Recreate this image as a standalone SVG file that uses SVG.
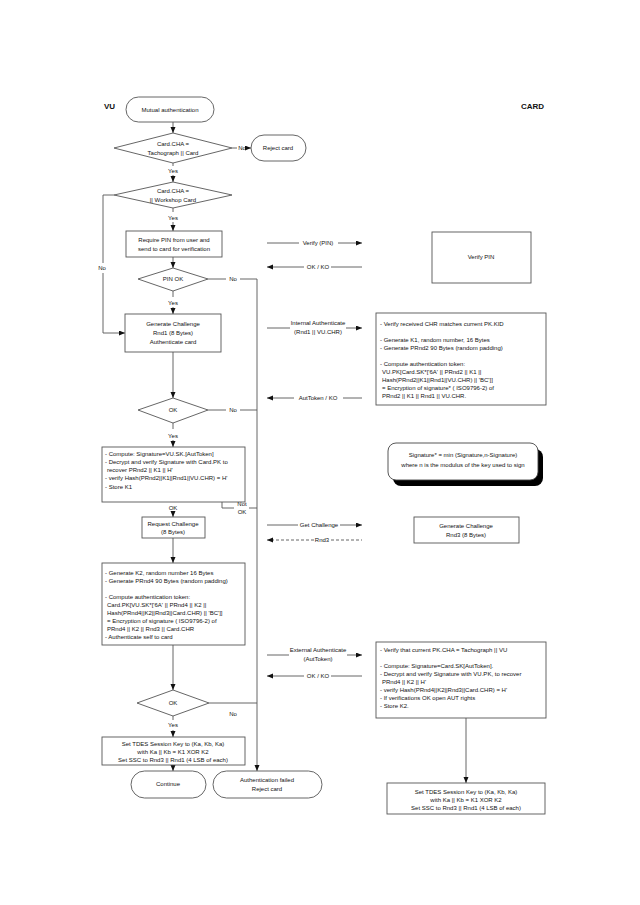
<svg xmlns="http://www.w3.org/2000/svg" width="640" height="905" viewBox="0 0 640 905">
<defs>
<marker id="ah" markerUnits="userSpaceOnUse" markerWidth="7" markerHeight="6" refX="6" refY="2.5" orient="auto">
<path d="M0,0 L6,2.5 L0,5 z" fill="#111"/>
</marker>
<style>
.n{fill:#fff;stroke:#555;stroke-width:0.9}
.t{font-family:"Liberation Sans",Arial,sans-serif;font-size:6px;fill:#111}
.m{text-anchor:middle}
.b{font-weight:bold;font-size:8px}
.c{fill:none;stroke:#555;stroke-width:0.9}
.a{marker-end:url(#ah)}
.d{stroke-dasharray:3 2}
</style>
</defs>
<rect width="640" height="905" fill="#fff"/>

<text class="t b" x="104" y="109">VU</text>
<text class="t b" x="521" y="109">CARD</text>

<g id="connectors">
<path class="c a" d="M173,122 V133"/>
<path class="c" d="M232,148 H237"/><path class="c a" d="M247,148 H251"/>
<path class="c" d="M173,163 V166"/><path class="c a" d="M173,175 V182"/>
<path class="c" d="M173,208 V212"/><path class="c a" d="M173,222 V231"/>
<path class="c" d="M114,195 H103 V263"/><path class="c a" d="M103,273 V333 H125"/>
<path class="c a" d="M173,257 V268"/>
<path class="c" d="M208,279 H226"/><path class="c a" d="M240,279 H257 V771"/>
<path class="c" d="M173,291 V297"/><path class="c a" d="M173,307 V314"/>
<path class="c a" d="M173,352 V398"/>
<path class="c" d="M208,410 H226 M240,410 H257"/>
<path class="c" d="M173,423 V429"/><path class="c a" d="M173,440 V447"/>
<path class="c" d="M222,502 V508 H234 M249,508 H257"/>
<path class="c a" d="M173,512 V517"/>
<path class="c a" d="M173,538 V563"/>
<path class="c a" d="M173,645 V690"/>
<path class="c" d="M209,703 H257"/>
<path class="c" d="M173,716 V720"/><path class="c a" d="M173,730 V737"/>
<path class="c a" d="M173,765 V771"/>
<!-- messages -->
<path class="c" d="M267,243 H299"/><path class="c a" d="M338,243 H362"/>
<path class="c a" d="M304,267 H267"/><path class="c" d="M331,267 H362"/>
<path class="c" d="M267,328 H290"/><path class="c a" d="M346,328 H362"/>
<path class="c a" d="M294,398 H267"/><path class="c" d="M343,398 H362"/>
<path class="c" d="M267,525 H298"/><path class="c a" d="M340,525 H362"/>
<path class="c d a" d="M314,540 H267"/><path class="c d" d="M331,540 H362"/>
<path class="c" d="M267,655 H289"/><path class="c a" d="M347,655 H362"/>
<path class="c a" d="M304,676 H267"/><path class="c" d="M331,676 H362"/>
<path class="c a" d="M466,718 V783"/>
<text class="t m" x="242" y="150">No</text>
<text class="t m" x="173" y="173">Yes</text>
<text class="t m" x="173" y="220">Yes</text>
<text class="t m" x="102" y="270">No</text>
<text class="t m" x="233" y="281">No</text>
<text class="t m" x="173" y="305">Yes</text>
<text class="t m" x="233" y="412">No</text>
<text class="t m" x="173" y="438">Yes</text>
<text class="t m" x="242" y="506">Not</text>
<text class="t m" x="242" y="514">OK</text>
<text class="t m" x="173" y="510">OK</text>
<text class="t m" x="233" y="716">No</text>
<text class="t m" x="173" y="727">Yes</text>
<text class="t m" x="318" y="245">Verify (PIN)</text>
<text class="t m" x="318" y="269">OK / KO</text>
<text class="t m" x="318" y="325">Internal Authenticate</text>
<text class="t m" x="318" y="334">(Rnd1 || VU.CHR)</text>
<text class="t m" x="318" y="400">AutToken / KO</text>
<text class="t m" x="319" y="527">Get Challenge</text>
<text class="t m" x="322" y="542">Rnd3</text>
<text class="t m" x="318" y="652">External Authenticate</text>
<text class="t m" x="318" y="661">(AutToken)</text>
<text class="t m" x="318" y="678">OK / KO</text>
</g>

<g id="start"><rect class="n" x="126" y="97" width="88" height="25" rx="12.5"/><text class="t m" x="170" y="112">Mutual authentication</text></g>
<g id="check-cha"><polygon class="n" points="173,133 232,148 173,163 114,148"/><text class="t m" x="173" y="146">Card.CHA =</text><text class="t m" x="173" y="155">Tachograph || Card</text></g>
<g id="reject1"><rect class="n" x="251" y="135" width="55" height="26" rx="13"/><text class="t m" x="278" y="150">Reject card</text></g>
<g id="check-workshop"><polygon class="n" points="173,182 232,195 173,208 114,195"/><text class="t m" x="173" y="193">Card.CHA =</text><text class="t m" x="173" y="202">|| Workshop Card</text></g>
<g id="require-pin"><rect class="n" x="126" y="231" width="96" height="26"/><text class="t m" x="174" y="242">Require PIN from user and</text><text class="t m" x="174" y="251">send to card for verification</text></g>
<g id="pin-ok"><polygon class="n" points="173,268 208,279 173,291 138,279"/><text class="t m" x="173" y="281">PIN OK</text></g>
<g id="gen-challenge"><rect class="n" x="125" y="314" width="96" height="38"/><text class="t m" x="173" y="326">Generate Challenge</text><text class="t m" x="173" y="335">Rnd1 (8 Bytes)</text><text class="t m" x="173" y="344">Authenticate card</text></g>
<g id="ok1"><polygon class="n" points="173,398 208,410 173,423 138,410"/><text class="t m" x="173" y="412">OK</text></g>
<g id="compute1"><rect class="n" x="102" y="447" width="143" height="55"/>
<text class="t" x="105" y="456">- Compute: Signature=VU.SK.[AutToken]</text>
<text class="t" x="105" y="464">- Decrypt and verify Signature with Card.PK to</text>
<text class="t" x="107" y="472">recover PRnd2 || K1 || H'</text>
<text class="t" x="105" y="480">- verify Hash(PRnd2||K1||Rnd1||VU.CHR) = H'</text>
<text class="t" x="105" y="489">- Store K1</text></g>
<g id="request-challenge"><rect class="n" x="142" y="517" width="63" height="21"/><text class="t m" x="173" y="526">Request Challenge</text><text class="t m" x="173" y="534">(8 Bytes)</text></g>
<g id="gen-k2"><rect class="n" x="102" y="563" width="143" height="82"/>
<text class="t" x="105" y="575">- Generate K2, random number 16 Bytes</text>
<text class="t" x="105" y="583">- Generate PRnd4 90 Bytes (random padding)</text>
<text class="t" x="105" y="599">- Compute authentication token:</text>
<text class="t" x="107" y="607">Card.PK[VU.SK*['6A' || PRnd4 || K2 ||</text>
<text class="t" x="107" y="615">Hash(PRnd4||K2||Rnd3||Card.CHR) || 'BC']]</text>
<text class="t" x="107" y="623">= Encryption of signature ( ISO9796-2) of</text>
<text class="t" x="107" y="631">PRnd4 || K2 || Rnd3 || Card.CHR</text>
<text class="t" x="105" y="639">- Authenticate self to card</text></g>
<g id="ok2"><polygon class="n" points="173,690 209,703 173,716 137,703"/><text class="t m" x="173" y="705">OK</text></g>
<g id="tdes-vu"><rect class="n" x="102" y="737" width="143" height="28"/>
<text class="t m" x="173" y="746">Set TDES Session Key  to (Ka, Kb, Ka)</text>
<text class="t m" x="173" y="754">with Ka || Kb = K1 XOR K2</text>
<text class="t m" x="173" y="762">Set SSC to Rnd3 || Rnd1 (4 LSB of each)</text></g>
<g id="continue"><rect class="n" x="131" y="771" width="75" height="27" rx="13.5"/><text class="t m" x="168" y="786">Continue</text></g>
<g id="auth-failed"><rect class="n" x="213" y="771" width="109" height="27" rx="13.5"/><text class="t m" x="267" y="782">Authentication failed</text><text class="t m" x="267" y="791">Reject card</text></g>

<g id="verify-pin"><rect class="n" x="432" y="232" width="99" height="51"/><text class="t m" x="481" y="259">Verify PIN</text></g>
<g id="card-internal"><rect class="n" x="376" y="313" width="170" height="92"/>
<text class="t" x="380" y="326">- Verify received CHR matches current PK.KID</text>
<text class="t" x="380" y="342">- Generate K1, random number, 16 Bytes</text>
<text class="t" x="380" y="350">- Generate PRnd2 90 Bytes (random padding)</text>
<text class="t" x="380" y="366">- Compute authentication token:</text>
<text class="t" x="382" y="374">VU.PK[Card.SK*['6A' || PRnd2 || K1 ||</text>
<text class="t" x="382" y="382">Hash(PRnd2||K1||Rnd1||VU.CHR) || 'BC']]</text>
<text class="t" x="382" y="390">= Encryption of signature* ( ISO9796-2) of</text>
<text class="t" x="382" y="398">PRnd2 || K1 || Rnd1 || VU.CHR.</text></g>
<g id="signature-note"><rect x="393" y="449" width="150" height="37" rx="8" fill="#000"/><rect class="n" x="388" y="443" width="150" height="37" rx="8" style="stroke:#444"/>
<text class="t m" x="463" y="457">Signature* = min (Signature,n-Signature)</text>
<text class="t m" x="463" y="467">where n is the modulus of the key used to sign</text></g>
<g id="card-gen-challenge"><rect class="n" x="414" y="517" width="105" height="26"/><text class="t m" x="466" y="528">Generate Challenge</text><text class="t m" x="466" y="537">Rnd3 (8 Bytes)</text></g>
<g id="card-external"><rect class="n" x="376" y="642" width="170" height="76"/>
<text class="t" x="380" y="652">- Verify that current PK.CHA = Tachograph || VU</text>
<text class="t" x="380" y="668">- Compute: Signature=Card.SK[AutToken].</text>
<text class="t" x="380" y="676">- Decrypt and verify Signature with VU.PK, to recover</text>
<text class="t" x="382" y="684">PRnd4 || K2 || H'</text>
<text class="t" x="380" y="692">- verify Hash(PRnd4||K2||Rnd3||Card.CHR) = H'</text>
<text class="t" x="380" y="700">- If verifications OK open AUT rights</text>
<text class="t" x="380" y="708">- Store K2.</text></g>
<g id="tdes-card"><rect class="n" x="387" y="783" width="158" height="31"/>
<text class="t m" x="466" y="794">Set TDES Session Key  to (Ka, Kb, Ka)</text>
<text class="t m" x="466" y="802">with Ka || Kb = K1 XOR K2</text>
<text class="t m" x="466" y="810">Set SSC to Rnd3 || Rnd1 (4 LSB of each)</text></g>
</svg>
